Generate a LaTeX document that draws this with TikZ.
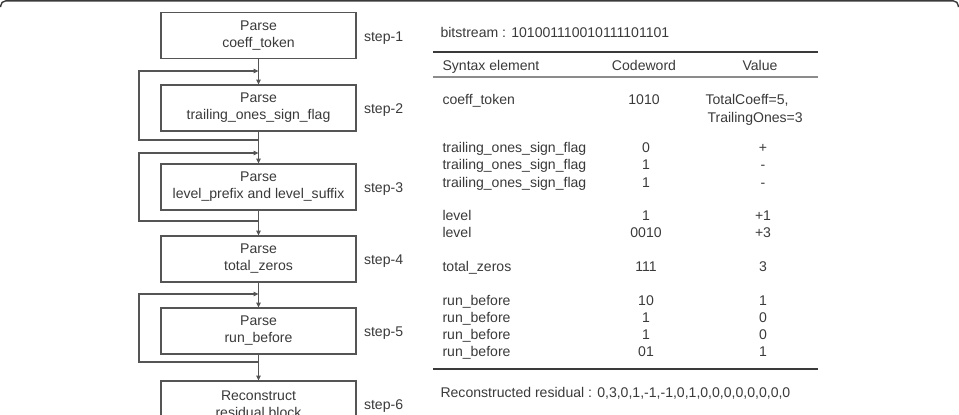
\documentclass[tikz,border=0pt]{standalone}
\usepackage{fontspec}
\setmainfont{Liberation Sans}
\usetikzlibrary{arrows.meta, positioning, calc}
\definecolor{cline}{HTML}{555555}
\definecolor{ctext}{HTML}{3A3A3A}
\definecolor{crule}{HTML}{8C8C8C}
\tikzset{
  every picture/.style={font=\fontsize{8}{9.7}\selectfont, line width=0.6pt, x=0.02cm, y=-0.02cm},
  stepbox/.style={draw=cline, text=ctext, minimum width=3.9cm, minimum height=0.92cm, align=center, inner sep=2pt},
  arrow/.style={-{Triangle[length=2.8pt, width=2.6pt]}, draw=cline},
  lbl/.style={text=ctext, inner sep=0pt, text height=1.6ex, text depth=0.4ex},
  rule/.style={draw=ctext, line width=0.7pt},
}

\begin{document}
\begin{tikzpicture}
  \useasboundingbox (0,0) rectangle (959,414);
  \clip (0,0) rectangle (959,414);
  % frame
  \draw[draw=ctext, line width=0.8pt, rounded corners=3pt] (0.6,7) -- (0.6,0.8) -- (958.4,0.8) -- (958.4,7);
  % parsing steps
  \foreach \i/\y/\txt in {1/35.5/Parse\\coeff\_token, 2/108/Parse\\trailing\_ones\_sign\_flag,
      3/187/Parse\\level\_prefix and level\_suffix, 4/259/Parse\\total\_zeros,
      5/331/Parse\\run\_before, 6/404/Reconstruct\\residual block}
    \node[stepbox] (b\i) at (258.5,\y) {\txt};
  \foreach \i in {1,...,6} \node[lbl, right=0.14cm of b\i] (s\i) {step-\i};
  \foreach \a/\b in {1/2, 2/3, 3/4, 4/5, 5/6} \draw[arrow] (b\a) -- (b\b);
  % loops
  \foreach \i/\t/\bt in {2/71/140, 3/153/221, 5/294/362} {
    \coordinate (lo\i) at (b\i.south |- 0,\bt);
    \coordinate (li\i) at (b\i.north |- 0,\t);
    \draw[arrow] (lo\i) -- (lo\i -| 139,0) -- (li\i -| 139,0) -- (li\i);
  }
  % table
  \node[lbl, anchor=west] (bits) at (440,32) {bitstream : 101001110010111101101};
  \draw[rule] (433,52) -- (818,52);
  \node[lbl, anchor=west] (h1) at (442,65) {Syntax element};
  \node[lbl] (h2) at (644,65) {Codeword};
  \node[lbl] (h3) at (760,65) {Value};
  \draw[rule, draw=crule, line width=1pt] (433,77) -- (818,77);
  \node[lbl, anchor=west] (e0) at (442,99) {coeff\_token};
  \node[lbl] (c0) at (644,99) {1010};
  \node[lbl, anchor=west] (v0) at (705,99) {TotalCoeff=5,};
  \node[lbl, anchor=west] (v0b) at (707,117) {TrailingOnes=3};
  \foreach \y/\el/\cw/\val in {147/trailing\_ones\_sign\_flag/0/+, 164/trailing\_ones\_sign\_flag/1/-,
      182/trailing\_ones\_sign\_flag/1/-, 215/level/1/+1, 232/level/0010/+3, 266/total\_zeros/111/3,
      300/run\_before/10/1, 317/run\_before/1/0, 334/run\_before/1/0, 351/run\_before/01/1} {
    \node[lbl, anchor=west] (e\y) at (442,\y) {\el};
    \node[lbl] (c\y) at (646,\y) {\cw};
    \node[lbl] (v\y) at (763,\y) {\val};
  }
  \draw[rule] (433,369) -- (818,369);
  \node[lbl, anchor=west] (res) at (440,392) {Reconstructed residual : 0,3,0,1,-1,-1,0,1,0,0,0,0,0,0,0,0};
\end{tikzpicture}
\end{document}
